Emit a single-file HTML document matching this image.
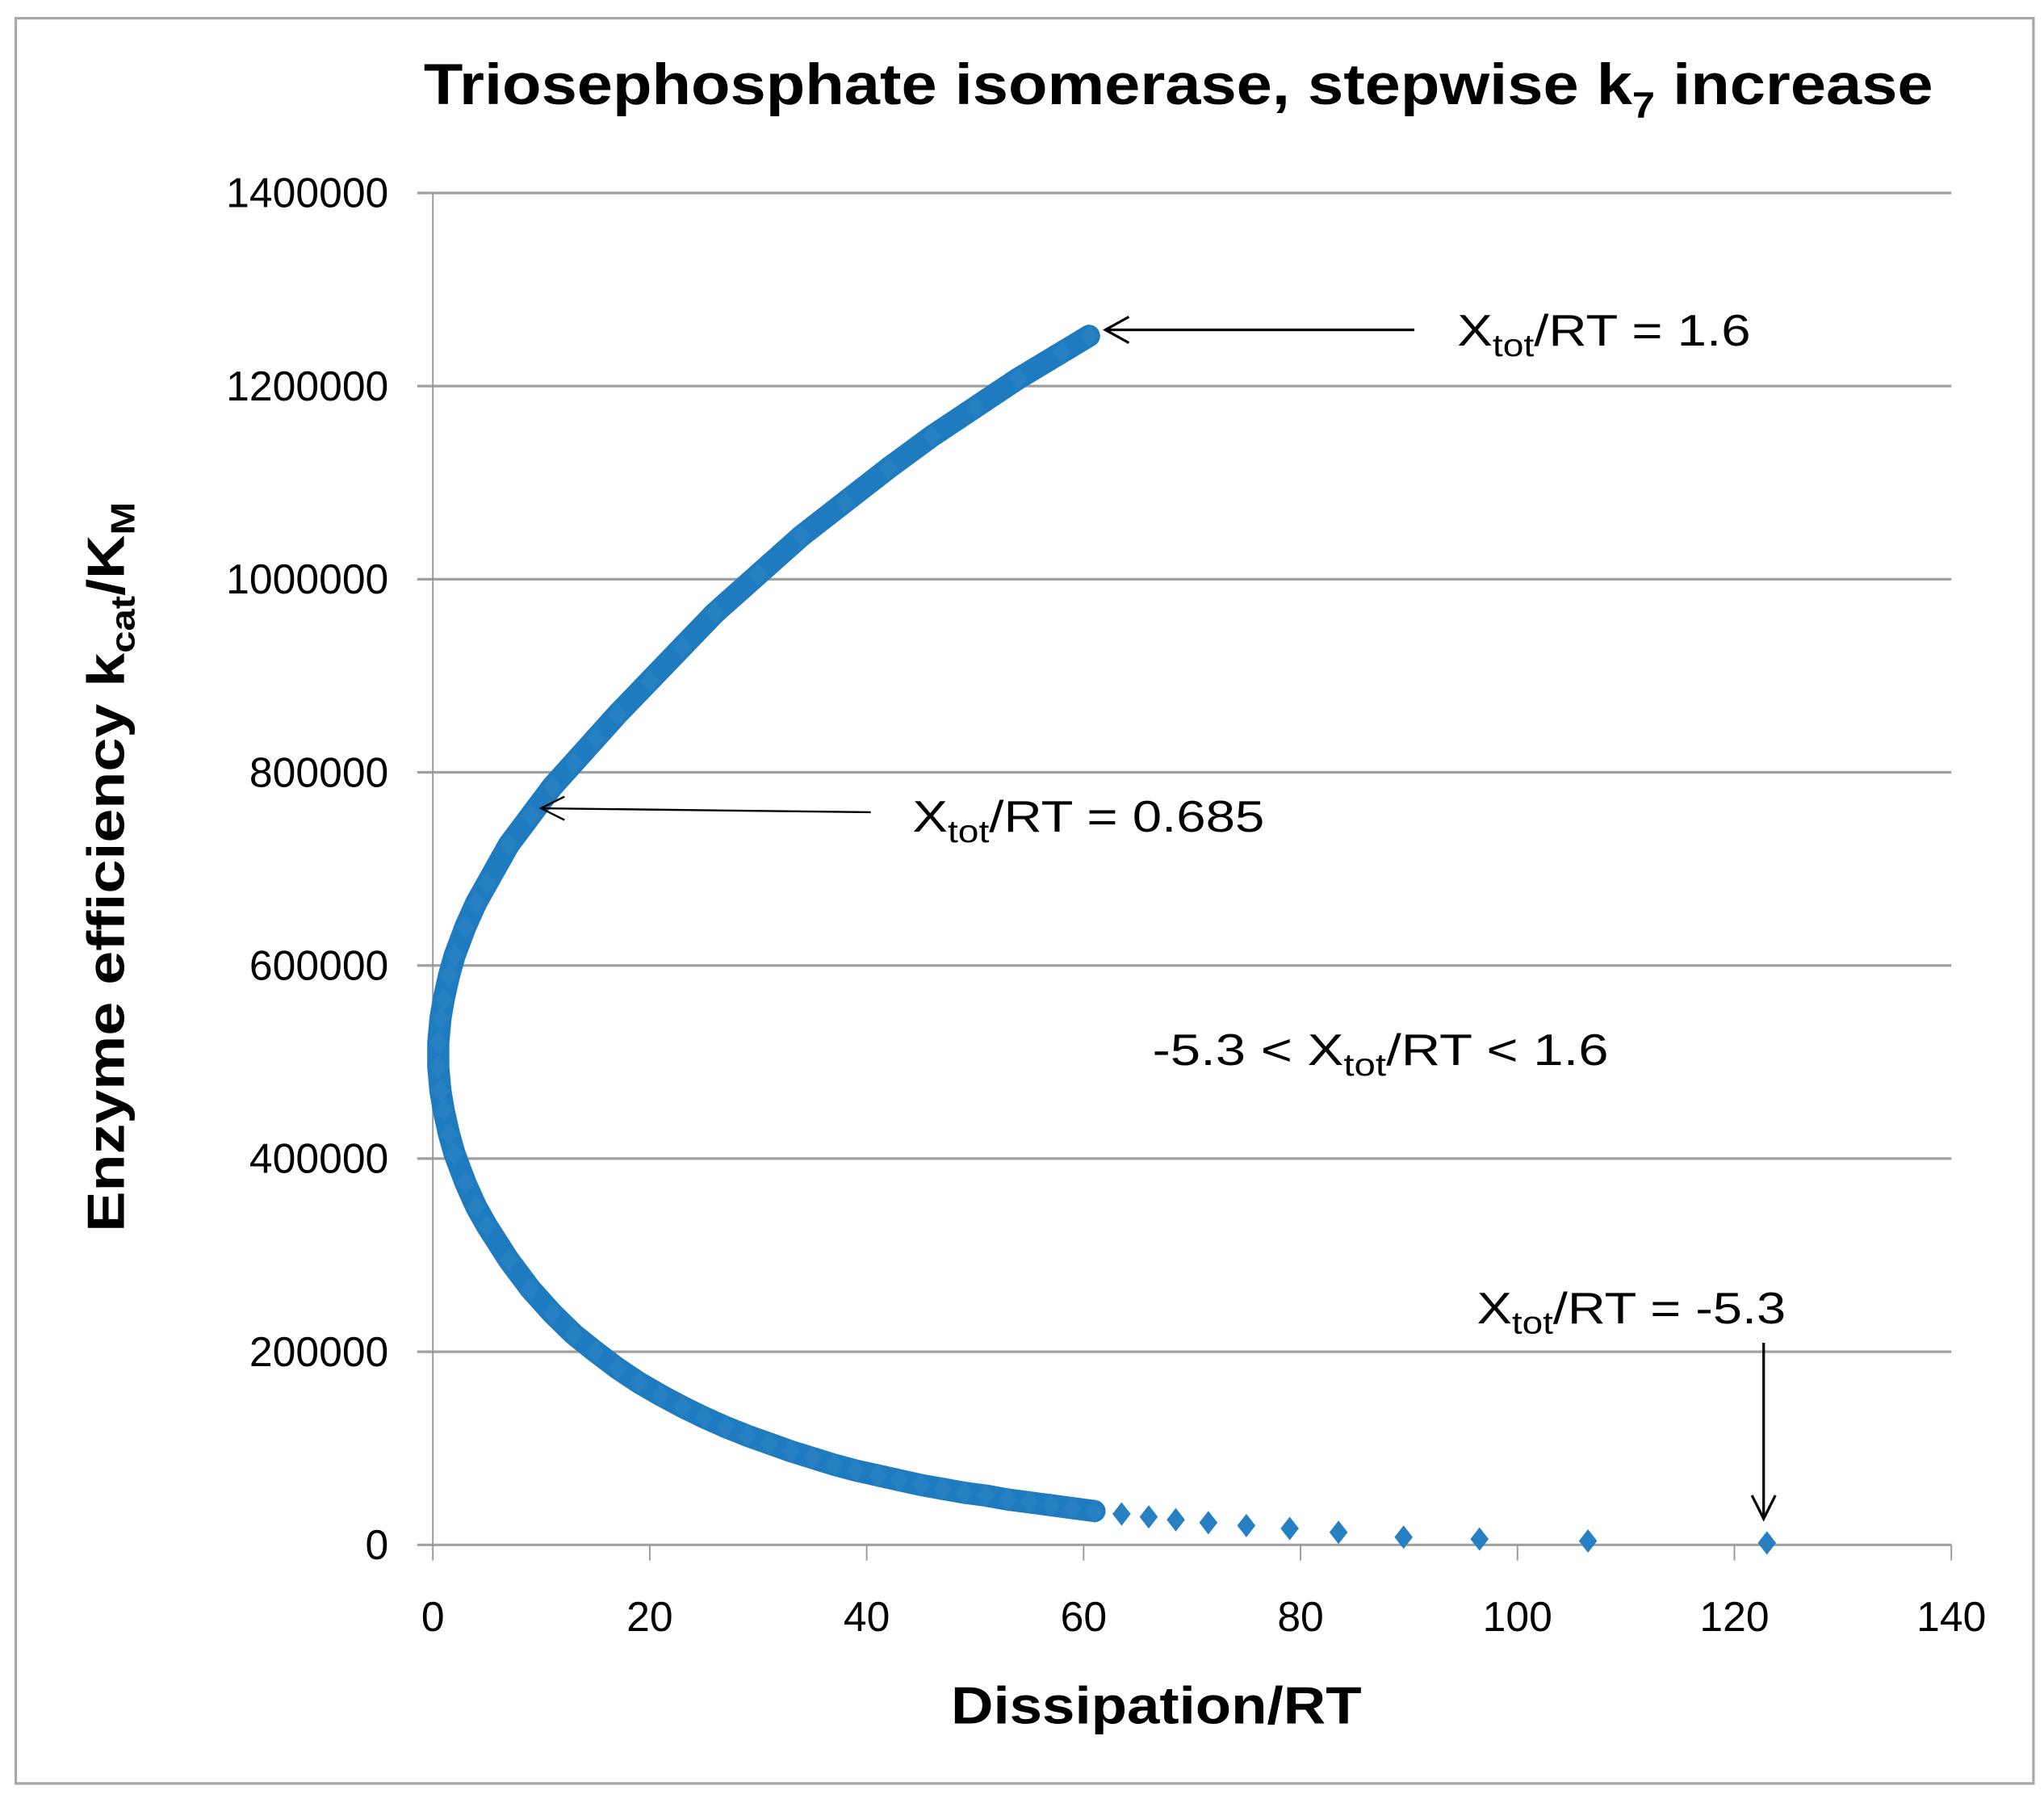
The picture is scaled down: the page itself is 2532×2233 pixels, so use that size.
<!DOCTYPE html>
<html><head><meta charset="utf-8"><style>
html,body{margin:0;padding:0;background:#fff;}
svg{display:block;}
text{font-family:"Liberation Sans",sans-serif;fill:#000;}
</style></head><body>
<svg id="chart" width="2532" height="2233" viewBox="0 0 1568 1383" xmlns="http://www.w3.org/2000/svg">
<rect x="12" y="14" width="1548" height="1354" fill="#fff" stroke="#a8a8a8" stroke-width="2"/>
<text x="904" y="80" font-size="44" font-weight="bold" text-anchor="middle" textLength="1158" lengthAdjust="spacingAndGlyphs">Triosephosphate isomerase, stepwise k<tspan font-size="28" dy="10">7</tspan><tspan dy="-10"> increase</tspan></text>
<g id="grid"></g>
<g id="yticks"></g>
<g id="xticks"></g>
<line x1="332" y1="148" x2="332" y2="1185" stroke="#9a9a9a" stroke-width="1.2"/>
<g id="series"></g>
<text x="887" y="1322" font-size="40" font-weight="bold" text-anchor="middle" textLength="315" lengthAdjust="spacingAndGlyphs">Dissipation/RT</text>
<text transform="translate(95,665) rotate(-90)" font-size="40" font-weight="bold" text-anchor="middle" textLength="560" lengthAdjust="spacingAndGlyphs">Enzyme  efficiency  k<tspan font-size="26" dy="8">cat</tspan><tspan dy="-8">/K</tspan><tspan font-size="26" dy="8">M</tspan></text>
<g>
<line x1="1085" y1="253" x2="848" y2="253" stroke="#000" stroke-width="2"/>
<polyline points="866,243 848,253 866,263" fill="none" stroke="#000" stroke-width="2"/>
<text x="1118" y="265" font-size="34" textLength="225" lengthAdjust="spacingAndGlyphs">X<tspan font-size="24" dy="8">tot</tspan><tspan dy="-8">/RT = 1.6</tspan></text>
</g>
<g>
<line x1="668" y1="623" x2="415" y2="620" stroke="#000" stroke-width="1.5"/>
<polyline points="433,611 415,620 433,629" fill="none" stroke="#000" stroke-width="1.5"/>
<text x="700" y="638" font-size="34" textLength="270" lengthAdjust="spacingAndGlyphs">X<tspan font-size="24" dy="8">tot</tspan><tspan dy="-8">/RT = 0.685</tspan></text>
</g>
<text x="884" y="817" font-size="34" textLength="350" lengthAdjust="spacingAndGlyphs">-5.3 &lt; X<tspan font-size="24" dy="8">tot</tspan><tspan dy="-8">/RT &lt;  1.6</tspan></text>
<g>
<text x="1133" y="1015" font-size="34" textLength="237" lengthAdjust="spacingAndGlyphs">X<tspan font-size="24" dy="8">tot</tspan><tspan dy="-8">/RT = -5.3</tspan></text>
<line x1="1353" y1="1030" x2="1353" y2="1165" stroke="#000" stroke-width="2"/>
<polyline points="1344,1147 1353,1165 1362,1147" fill="none" stroke="#000" stroke-width="2"/>
</g>
</svg>
<script>
const yTicks=[0,200000,400000,600000,800000,1000000,1200000,1400000];
const xTicks=[0,20,40,60,80,100,120,140];
const xVals=[123,106.5,96.5,89.5,83.5,79,75,71.5,68.5,66,63.5,61,59,57,55,53,51,49,47,45,43,41,39,37,35,33,31,29,27,25,23,21,19,17,15,13,11,9,7,5,4,3,2,1.5,1,0.7,0.5,0.5,0.7,1,1.5,2,3,4,5,7,9,11,13,15,17,20,23,26,30,34,38,42,46,50,54,58,60.5];
const yVals=[2000,4000,6000,8000,13000,17000,20000,23000,26000,29000,32000,35000,38000,41000,44000,47000,51000,54000,58000,62000,67000,72000,77000,83000,90000,97000,105000,113000,122000,132000,143000,155000,168000,183000,200000,218000,240000,265000,295000,330000,350000,375000,405000,425000,450000,470000,495000,520000,545000,565000,590000,610000,640000,665000,685000,725000,755000,785000,810000,835000,860000,895000,930000,965000,1005000,1045000,1080000,1115000,1148000,1178000,1208000,1235000,1252000];
const NS="http://www.w3.org/2000/svg";
const X0=332,X1=1497,Y0=1185,Y1=148;
function sx(v){return X0+(v-0)/(140-0)*(X1-X0);}
function sy(v){return Y0-(v-0)/(1400000-0)*(Y0-Y1);}
function mk(tag,attrs){const e=document.createElementNS(NS,tag);for(const k in attrs)e.setAttribute(k,attrs[k]);return e;}
const grid=document.getElementById('grid'),yt=document.getElementById('yticks'),xt=document.getElementById('xticks'),ser=document.getElementById('series');
yTicks.forEach(v=>{
 const l=mk('line',{x1:X0-12,x2:X1,y1:sy(v),y2:sy(v),stroke:'#a0a0a0','stroke-width':2});
 
 
 grid.appendChild(l);
 const t=mk('text',{x:298,y:sy(v)+11,'font-size':32,'text-anchor':'end'});
 t.textContent=v;
 
 
 yt.appendChild(t);
});
xTicks.forEach(v=>{
 const l=mk('line',{x1:sx(v),x2:sx(v),y1:Y0,y2:Y0+12,stroke:'#9a9a9a','stroke-width':1.2});
 
 
 grid.appendChild(l);
 const t=mk('text',{x:sx(v),y:1251,'font-size':32,'text-anchor':'middle'});
 t.textContent=v;
 
 
 xt.appendChild(t);
});
let pts=[];
for(let i=11;i<xVals.length;i++)pts.push(sx(xVals[i])+','+sy(yVals[i]));
const pl=mk('polyline',{points:pts.join(' '),fill:'none',stroke:'#1f7bbf','stroke-width':17,'stroke-linejoin':'round','stroke-linecap':'round'});


ser.appendChild(pl);
xVals.forEach((xv,i)=>{
 const cx=sx(xv),cy=sy(yVals[i]);
 const d=mk('polygon',{points:`${cx},${cy-9} ${cx+7},${cy} ${cx},${cy+9} ${cx-7},${cy}`,fill:'#2680c2'});
 
 
 ser.appendChild(d);
});
</script>
</body></html>
